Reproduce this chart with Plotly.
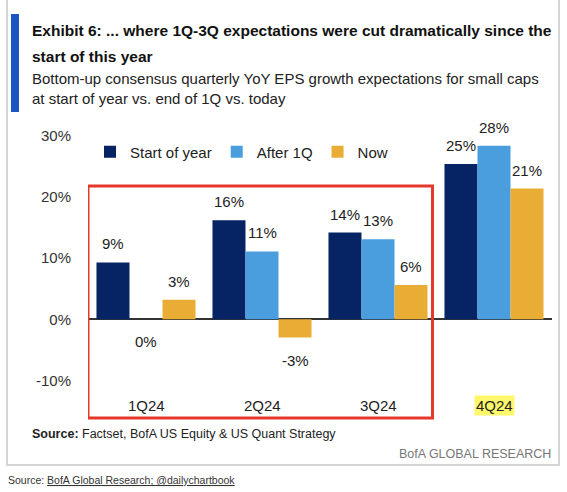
import plotly.graph_objects as go

quarters = ["1Q24", "2Q24", "3Q24", "4Q24"]
start_of_year = [9.3, 16.2, 14.2, 25.4]
after_1q = [0.0, 11.1, 13.1, 28.4]
now = [3.2, -3.0, 5.6, 21.4]
y_ticks = [-10, 0, 10, 20, 30]

series = [
    ("Start of year", start_of_year, "#062463"),
    ("After 1Q", after_1q, "#4a9edd"),
    ("Now", now, "#e9ad35"),
]

FONT = "Liberation Sans, Arial, sans-serif"
W, H = 567, 492
L, R, T, B = 88, 15, 136, 100
PW, PH = W - L - R, H - T - B


def px(x):
    return (x - L) / PW


def py(y):
    return 1 - (y - T) / PH


fig = go.Figure()
for name, vals, color in series:
    fig.add_trace(go.Bar(x=quarters, y=vals, name=name, marker_color=color,
                         marker_line_width=0))

# value labels
bar_px = PW / len(quarters) * (1 - 0.146) / 3
for i, (name, vals, color) in enumerate(series):
    for q, v in zip(quarters, vals):
        fig.add_annotation(x=q, y=v, xref="x", yref="y", text=f"{v:.0f}%",
                           showarrow=False, xshift=(i - 1) * bar_px,
                           yanchor="bottom" if v > 0 else "top",
                           yshift=8 if v > 0 else -12,
                           font=dict(family=FONT, size=15, color="#222"))

# category labels
for q in quarters:
    fig.add_annotation(x=q, y=py(405), xref="x", yref="paper", text=q,
                       showarrow=False, yanchor="middle",
                       bgcolor="#fff86a" if q == "4Q24" else None,
                       font=dict(family=FONT, size=15, color="#222"))

# outer frame, title bar, red highlight box
fig.add_shape(type="rect", xref="paper", yref="paper",
              x0=px(7), x1=px(559), y0=py(465), y1=py(-2),
              line=dict(color="#c8c8c8", width=1.5))
fig.add_shape(type="rect", xref="paper", yref="paper",
              x0=px(11), x1=px(19), y0=py(112), y1=py(14),
              fillcolor="#1a55c0", line_width=0)
fig.add_shape(type="rect", xref="x", yref="paper",
              x0=-0.5, x1=2.47, y0=py(418), y1=py(186),
              line=dict(color="#e4382a", width=3))

fig.add_annotation(xref="paper", yref="paper", x=px(30), y=py(30),
                   xanchor="left", yanchor="middle", showarrow=False, align="left",
                   text="<b>Exhibit 6: ... where 1Q-3Q expectations were cut dramatically since the</b>",
                   font=dict(family=FONT, size=15.5, color="#111"))
fig.add_annotation(xref="paper", yref="paper", x=px(30), y=py(56),
                   xanchor="left", yanchor="middle", showarrow=False,
                   text="<b>start of this year</b>",
                   font=dict(family=FONT, size=15.5, color="#111"))
fig.add_annotation(xref="paper", yref="paper", x=px(30), y=py(78),
                   xanchor="left", yanchor="middle", showarrow=False,
                   text="Bottom-up consensus quarterly YoY EPS growth expectations for small caps",
                   font=dict(family=FONT, size=15, color="#222"))
fig.add_annotation(xref="paper", yref="paper", x=px(30), y=py(98),
                   xanchor="left", yanchor="middle", showarrow=False,
                   text="at start of year vs. end of 1Q vs. today",
                   font=dict(family=FONT, size=15, color="#222"))
fig.add_annotation(xref="paper", yref="paper", x=px(30), y=py(434),
                   xanchor="left", yanchor="middle", showarrow=False,
                   text="<b>Source:</b> Factset, BofA US Equity & US Quant Strategy",
                   font=dict(family=FONT, size=12.5, color="#222"))
fig.add_annotation(xref="paper", yref="paper", x=px(553), y=py(454),
                   xanchor="right", yanchor="middle", showarrow=False,
                   text="BofA GLOBAL RESEARCH",
                   font=dict(family=FONT, size=12.5, color="#777"))
fig.add_annotation(xref="paper", yref="paper", x=px(6), y=py(480),
                   xanchor="left", yanchor="middle", showarrow=False,
                   text="Source: <u>BofA Global Research; @dailychartbook</u>",
                   font=dict(family=FONT, size=10.5, color="#333"))

fig.update_layout(
    width=W, height=H,
    margin=dict(l=L, r=R, t=T, b=B),
    paper_bgcolor="white", plot_bgcolor="white",
    barmode="group", bargap=0.146, bargroupgap=0,
    font=dict(family=FONT, size=15, color="#222"),
    showlegend=True,
    legend=dict(orientation="h", x=px(90), y=py(152), xanchor="left",
                yanchor="middle", bgcolor="rgba(0,0,0,0)",
                font=dict(family=FONT, size=15, color="#222"),
                itemwidth=30, traceorder="normal"),
)
fig.update_xaxes(showticklabels=False, showgrid=False, showline=False,
                 range=[-0.5, 3.5])
fig.update_yaxes(range=[-11.9, 30], tickmode="array", tickvals=y_ticks,
                 ticktext=[f"{t}%" for t in y_ticks],
                 showgrid=False, showline=False, zeroline=True,
                 zerolinecolor="#333", zerolinewidth=1.5,
                 tickfont=dict(family=FONT, size=15, color="#333"),
                 ticklabelstandoff=16)

fig.write_html("out.html", config={"displayModeBar": False},
               post_script="document.body.style.margin = '0';")
